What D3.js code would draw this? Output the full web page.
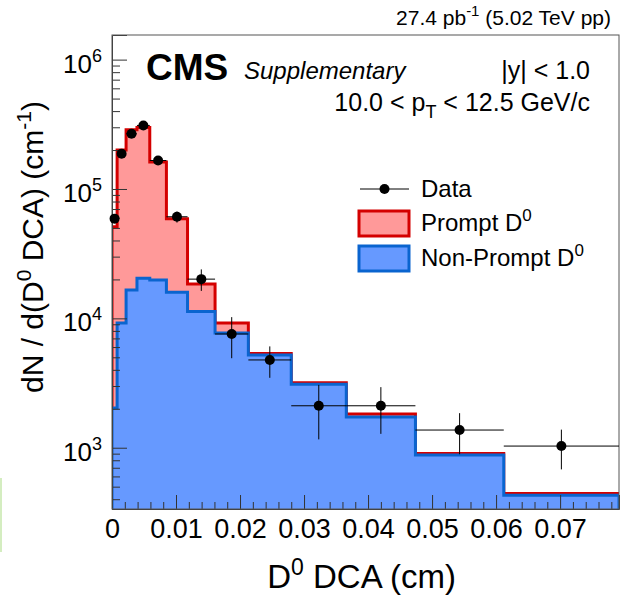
<!DOCTYPE html>
<html>
<head>
<meta charset="utf-8">
<script src="https://d3js.org/d3.v7.min.js"></script>
<style>
  body { margin: 0; background: #fff; }
  svg { font-family: "Liberation Sans", Arial, sans-serif; }
</style>
</head>
<body>
<svg id="chart" width="625" height="596"></svg>
<script>
// bin edges of the D0 DCA histogram (cm)
const binEdges = [0, 0.0008, 0.0022, 0.0039, 0.0059, 0.0085, 0.0118, 0.0161, 0.0213, 0.0280, 0.0366, 0.0474, 0.0612, 0.0792];
// stacked templates
const nonPrompt = [2030, 9200, 16600, 20400, 19800, 15900, 11300, 7700, 5200, 3090, 1730, 877, 430];
const prompt = [49000, 191000, 270000, 279000, 142000, 43000, 7100, 1500, 160, 95, 90, 27, 13];
// data points and errors
const dataY = [59000, 187000, 267000, 310000, 166000, 61000, 20100, 7570, 4770, 2110, 2110, 1370, 1030];
const dataErr = [1500, 4000, 5000, 5500, 4000, 6000, 3800, 2650, 1300, 950, 830, 480, 350];
const xTicks = [0, 0.01, 0.02, 0.03, 0.04, 0.05, 0.06, 0.07];
const yTicks = [1e3, 1e4, 1e5, 1e6];

const svg = d3.select("#chart");
const pLeft = 112, pRight = 619, pTop = 35, pBottom = 509;

const x = d3.scaleLinear().domain([0, 0.0792]).range([pLeft, pRight]);
const y = d3.scaleLog().domain([336, 1.55e6]).range([pBottom, pTop]);

// artifact strip on the left border
svg.append("rect").attr("x", 0).attr("y", 478).attr("width", 2).attr("height", 74).attr("fill", "#d4edc0");

svg.append("clipPath").attr("id", "plotclip")
    .append("rect").attr("x", pLeft).attr("y", pTop).attr("width", pRight - pLeft).attr("height", pBottom - pTop);

const g = svg.append("g").attr("clip-path", "url(#plotclip)");

// step points for a histogram
function steps(vals) {
    const pts = vals.map((v, i) => [binEdges[i], v]);
    pts.push([binEdges[binEdges.length - 1], vals[vals.length - 1]]);
    return pts;
}

const total = nonPrompt.map((v, i) => v + prompt[i]);

const area = d3.area()
    .x(d => x(d[0]))
    .y0(pBottom)
    .y1(d => y(d[1]))
    .curve(d3.curveStepAfter);

const outline = d3.line()
    .x(d => x(d[0]))
    .y(d => d[1] === null ? pBottom : y(d[1]))
    .curve(d3.curveStepAfter);

function outlinePts(vals) {
    const pts = steps(vals);
    return [[binEdges[0], null]].concat(pts).concat([[binEdges[binEdges.length - 1], null]]);
}

// prompt (stacked on top)
g.append("path").attr("d", area(steps(total))).attr("fill", "#ff9999");
g.append("path").attr("d", outline(outlinePts(total)))
    .attr("fill", "none").attr("stroke", "#d40000").attr("stroke-width", 3);

// non-prompt
g.append("path").attr("d", area(steps(nonPrompt))).attr("fill", "#6699ff");
g.append("path").attr("d", outline(outlinePts(nonPrompt)))
    .attr("fill", "none").attr("stroke", "#0a64cf").attr("stroke-width", 3);

// axes
const xMinor = d3.range(0, 0.0792, 0.002).filter(v => Math.abs(v / 0.01 - Math.round(v / 0.01)) > 1e-6);

const xAxis = svg.append("g").attr("transform", `translate(0,${pBottom})`)
    .call(d3.axisBottom(x).tickValues(xTicks).tickSize(-14).tickPadding(10)
        .tickFormat(d => d === 0 ? "0" : d3.format(".2f")(d)));
xAxis.select(".domain").attr("stroke", "#333");
xAxis.selectAll(".tick line").attr("stroke", "#333");
xAxis.selectAll("text").attr("font-size", 27).attr("fill", "#000")
    .attr("font-family", "Liberation Sans, Arial, sans-serif");

svg.append("g").attr("transform", `translate(0,${pBottom})`)
    .call(d3.axisBottom(x).tickValues(xMinor).tickSize(-7).tickFormat(""))
    .call(a => a.select(".domain").remove())
    .selectAll(".tick line").attr("stroke", "#333");

const yMinor = [];
[100, 1000, 10000, 100000, 1000000].forEach(d => {
    for (let k = 2; k <= 9; k++) {
        const v = d * k;
        if (v > 336 && v < 1.55e6) yMinor.push(v);
    }
});

const yAxis = svg.append("g").attr("transform", `translate(${pLeft},0)`)
    .call(d3.axisLeft(y).tickValues(yTicks).tickSize(-15).tickFormat(""));
yAxis.select(".domain").attr("stroke", "#333");
yAxis.selectAll(".tick line").attr("stroke", "#333");

svg.append("g").attr("transform", `translate(${pLeft},0)`)
    .call(d3.axisLeft(y).tickValues(yMinor).tickSize(-8).tickFormat(""))
    .call(a => a.select(".domain").remove())
    .selectAll(".tick line").attr("stroke", "#333");

// y tick labels with superscripts
yTicks.forEach(v => {
    const t = svg.append("text").attr("x", 102).attr("y", y(v) + 13)
        .attr("text-anchor", "end").attr("font-size", 26);
    t.append("tspan").text("10");
    t.append("tspan").attr("dy", -11).attr("font-size", 18).text(Math.round(Math.log10(v)));
});

// frame
svg.append("rect").attr("x", pLeft).attr("y", pTop).attr("width", pRight - pLeft).attr("height", pBottom - pTop)
    .attr("fill", "none").attr("stroke", "#555").attr("stroke-width", 1);

// data points
const centers = dataY.map((v, i) => (binEdges[i] + binEdges[i + 1]) / 2);
const pts = svg.append("g");
dataY.forEach((v, i) => {
    pts.append("line")
        .attr("x1", x(binEdges[i])).attr("x2", x(binEdges[i + 1]))
        .attr("y1", y(v)).attr("y2", y(v))
        .attr("stroke", "#000").attr("stroke-width", 1);
    pts.append("line")
        .attr("x1", x(centers[i])).attr("x2", x(centers[i]))
        .attr("y1", y(v + dataErr[i])).attr("y2", y(v - dataErr[i]))
        .attr("stroke", "#000").attr("stroke-width", 1);
});
pts.selectAll("circle").data(dataY).enter().append("circle")
    .attr("cx", (d, i) => x(centers[i]))
    .attr("cy", d => y(d))
    .attr("r", 5)
    .attr("fill", "#000");

// header texts
const lumi = svg.append("text").attr("x", 611).attr("y", 25).attr("text-anchor", "end").attr("font-size", 21);
lumi.append("tspan").text("27.4 pb");
lumi.append("tspan").attr("dy", -9).attr("font-size", 15).text("-1");
lumi.append("tspan").attr("dy", 9).text(" (5.02 TeV pp)");

svg.append("text").attr("x", 146).attr("y", 80).attr("font-size", 37).attr("font-weight", "bold").text("CMS");
svg.append("text").attr("x", 244).attr("y", 79).attr("font-size", 24).attr("font-style", "italic").text("Supplementary");

svg.append("text").attr("x", 590).attr("y", 79).attr("text-anchor", "end").attr("font-size", 25).text("|y| < 1.0");
const pt = svg.append("text").attr("x", 590).attr("y", 111).attr("text-anchor", "end").attr("font-size", 25);
pt.append("tspan").text("10.0 < p");
pt.append("tspan").attr("dy", 7).attr("font-size", 18).text("T");
pt.append("tspan").attr("dy", -7).text(" < 12.5 GeV/c");

// legend
const leg = svg.append("g");
leg.append("line").attr("x1", 360).attr("x2", 409).attr("y1", 189).attr("y2", 189).attr("stroke", "#000");
leg.append("circle").attr("cx", 384.5).attr("cy", 189).attr("r", 5).attr("fill", "#000");
leg.append("text").attr("x", 421).attr("y", 197).attr("font-size", 24).text("Data");

leg.append("rect").attr("x", 359).attr("y", 211).attr("width", 50).attr("height", 25)
    .attr("fill", "#ff9999").attr("stroke", "#d40000").attr("stroke-width", 3);
const lp = leg.append("text").attr("x", 421).attr("y", 231).attr("font-size", 24);
lp.append("tspan").text("Prompt D");
lp.append("tspan").attr("dy", -10).attr("font-size", 17).text("0");

leg.append("rect").attr("x", 359).attr("y", 246).attr("width", 50).attr("height", 25)
    .attr("fill", "#6699ff").attr("stroke", "#0a64cf").attr("stroke-width", 3);
const ln = leg.append("text").attr("x", 421).attr("y", 266).attr("font-size", 24);
ln.append("tspan").text("Non-Prompt D");
ln.append("tspan").attr("dy", -10).attr("font-size", 17).text("0");

// axis titles
const xt = svg.append("text").attr("x", 456).attr("y", 588).attr("text-anchor", "end").attr("font-size", 33);
xt.append("tspan").text("D");
xt.append("tspan").attr("dy", -13).attr("font-size", 23).text("0");
xt.append("tspan").attr("dy", 13).text(" DCA (cm)");

const yt = svg.append("text").attr("transform", "translate(43,247) rotate(-90)")
    .attr("text-anchor", "middle").attr("font-size", 30);
yt.append("tspan").text("dN / d(D");
yt.append("tspan").attr("dy", -12).attr("font-size", 21).text("0");
yt.append("tspan").attr("dy", 12).text(" DCA) (cm");
yt.append("tspan").attr("dy", -12).attr("font-size", 21).text("-1");
yt.append("tspan").attr("dy", 12).text(")");
</script>
</body>
</html>
